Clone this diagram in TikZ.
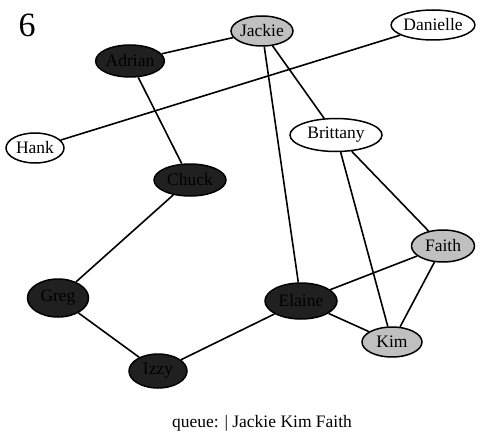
\documentclass[tikz,border=0pt]{standalone}
\usepackage{fontspec}
\setmainfont{Liberation Serif}
\usetikzlibrary{shapes.geometric}
\definecolor{darkfill}{HTML}{202020}
\definecolor{grayfill}{HTML}{C0C0C0}
\tikzset{
  vtx/.style={ellipse, draw=black, line width=1.5pt, inner sep=0pt, font=\fontsize{17.5}{20}\selectfont, text=black},
  white/.style={vtx, fill=white},
  grayv/.style={vtx, fill=grayfill},
  darkv/.style={vtx, fill=darkfill},
  edge/.style={line width=1.6pt, draw=black}
}
\begin{document}
\begin{tikzpicture}[x=1pt,y=-1pt]
\useasboundingbox (0,0) rectangle (481,441);
\node[grayv, minimum width=62pt, minimum height=30pt] (jackie) at (262,31) {Jackie};
\node[white, minimum width=66pt, minimum height=30pt] (danielle) at (433,25) {Danielle};
\node[darkv, minimum width=65pt, minimum height=32pt] (adrian) at (130,61) {Adrian};
\node[white, minimum width=58pt, minimum height=30pt] (hank) at (35,148) {Hank};
\node[white, minimum width=92pt, minimum height=33pt] (brittany) at (336,135) {Brittany};
\node[darkv, minimum width=72pt, minimum height=32pt] (chuck) at (190,180) {Chuck};
\node[grayv, minimum width=63pt, minimum height=32pt] (faith) at (443,246) {Faith};
\node[darkv, minimum width=61pt, minimum height=38pt] (greg) at (58,298) {Greg};
\node[darkv, minimum width=72pt, minimum height=36pt] (elaine) at (301,301) {Elaine};
\node[grayv, minimum width=60pt, minimum height=30pt] (kim) at (392,342) {Kim};
\node[darkv, minimum width=58pt, minimum height=34pt] (izzy) at (158,371) {Izzy};
\node[font=\fontsize{34}{38}\selectfont, inner sep=0pt] (num) at (27,25) {6};
\node[font=\fontsize{17.5}{20}\selectfont, inner sep=0pt] (queue) at (262,423) {queue: | Jackie Kim Faith};
\draw[edge] (adrian) -- (jackie);
\draw[edge] (adrian) -- (chuck);
\draw[edge] (jackie) -- (elaine);
\draw[edge] (jackie) -- (brittany);
\draw[edge] (danielle) -- (hank);
\draw[edge] (brittany) -- (faith);
\draw[edge] (brittany) -- (kim);
\draw[edge] (chuck) -- (greg);
\draw[edge] (greg) -- (izzy);
\draw[edge] (izzy) -- (elaine);
\draw[edge] (elaine) -- (faith);
\draw[edge] (elaine) -- (kim);
\draw[edge] (faith) -- (kim);
\end{tikzpicture}
\end{document}
